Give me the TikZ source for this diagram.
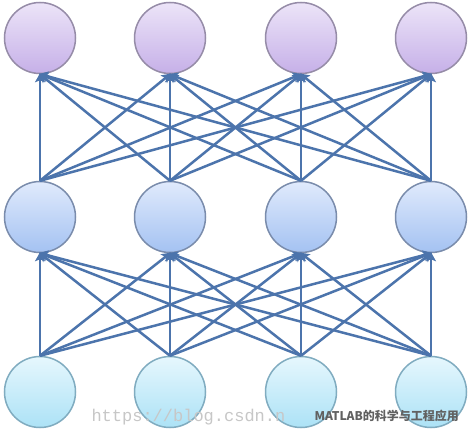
\documentclass[tikz,border=0pt]{standalone}
\usepackage{fontspec}
\newfontfamily\cjk{Noto Sans CJK SC}
\newfontfamily\mono{Liberation Mono}
\usetikzlibrary{arrows.meta}
\definecolor{edgeblue}{RGB}{76,116,172}
\definecolor{purpTop}{RGB}{236,228,248}
\definecolor{purpBot}{RGB}{198,176,232}
\definecolor{purpLine}{RGB}{150,140,168}
\definecolor{blueTop}{RGB}{224,234,252}
\definecolor{blueBot}{RGB}{164,194,242}
\definecolor{blueLine}{RGB}{122,140,172}
\definecolor{cyanTop}{RGB}{230,247,253}
\definecolor{cyanBot}{RGB}{172,226,246}
\definecolor{cyanLine}{RGB}{128,172,192}
\tikzset{
  neuron/.style={circle, minimum size=71pt, inner sep=0pt, line width=1.5pt},
  outn/.style={neuron, draw=purpLine, top color=purpTop, bottom color=purpBot},
  hidn/.style={neuron, draw=blueLine, top color=blueTop, bottom color=blueBot},
  inn/.style={neuron, draw=cyanLine, top color=cyanTop, bottom color=cyanBot},
  conn/.style={draw=edgeblue, line width=2.5pt, -{Stealth[length=9pt,width=10pt,inset=2pt]}, shorten >=-1pt}
}
\begin{document}
\begin{tikzpicture}[x=1pt,y=-1pt]
\useasboundingbox (0,0) rectangle (473,439);
\fill[white] (0,0) rectangle (473,439);
% nodes
\foreach \i/\x in {1/40,2/170,3/301,4/431}{
  \node[outn] (o\i) at (\x,38) {};
  \node[hidn] (h\i) at (\x,217) {};
  \node[inn]  (n\i) at (\x,392) {};
}
% connections
\foreach \a in {1,2,3,4}{
  \foreach \b in {1,2,3,4}{
    \draw[conn] (n\a.north) -- (h\b.south);
    \draw[conn] (h\a.north) -- (o\b.south);
  }
}
% watermark
\node[anchor=west, text=black!22, font=\mono\fontsize{17}{17}\selectfont] (wm1) at (88,417) {https://blog.csdn.n};
\node[anchor=west, text=black!62, font=\cjk\bfseries\fontsize{12}{12}\selectfont] (wm2) at (311,416) {MATLAB的科学与工程应用};
\end{tikzpicture}
\end{document}
